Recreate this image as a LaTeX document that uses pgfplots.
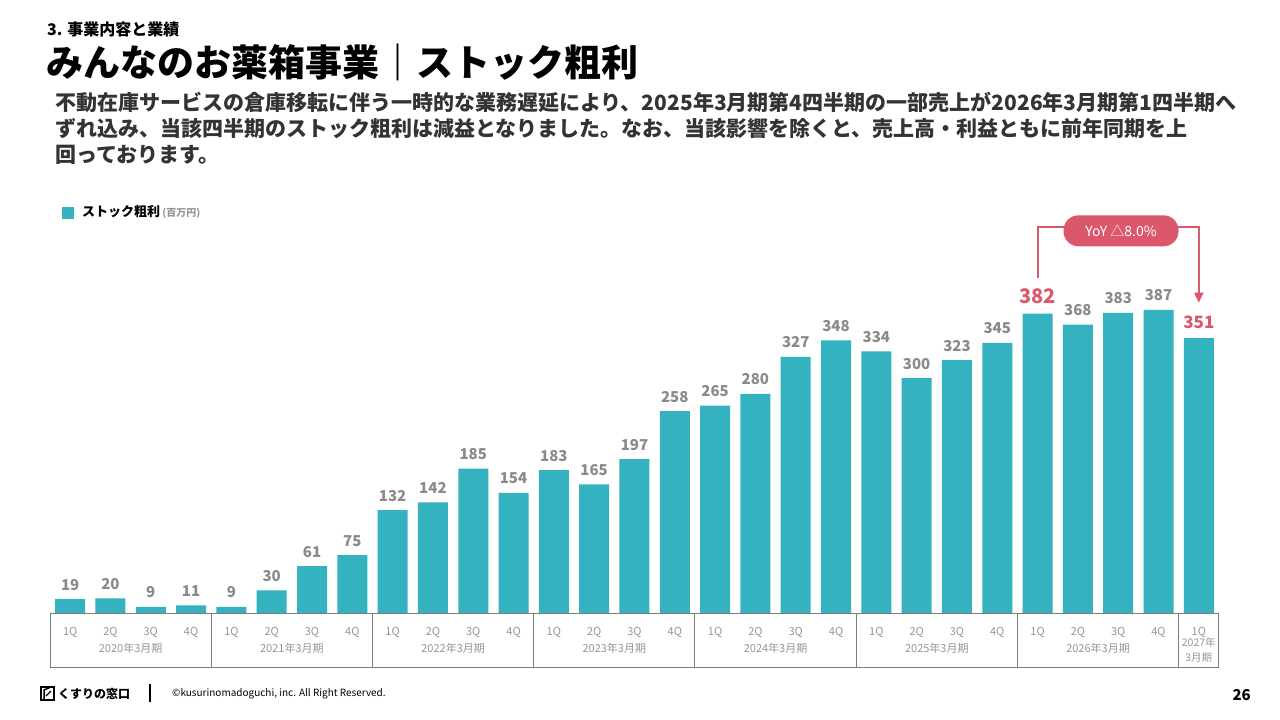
\documentclass[border=0pt]{standalone}
\usepackage{fontspec}
\setmainfont{Noto Sans CJK JP}
\usepackage{pgfplots}
\pgfplotsset{compat=1.18}
\usepackage{pgfplotstable}
\usetikzlibrary{arrows.meta}

\definecolor{barteal}{RGB}{52,178,192}
\definecolor{pinkred}{RGB}{219,88,108}
\definecolor{lblgray}{RGB}{138,138,138}
\definecolor{tickgray}{RGB}{150,150,150}
\definecolor{linegray}{RGB}{125,125,125}
\definecolor{bodytext}{RGB}{51,51,51}

\pgfplotstableread{
x y lab
0 19 19
1 20 20
2 9 9
3 11 11
4 9 9
5 30 30
6 61 61
7 75 75
8 132 132
9 142 142
10 185 185
11 154 154
12 183 183
13 165 165
14 197 197
15 258 258
16 265 265
17 280 280
18 327 327
19 348 348
20 334 334
21 300 300
22 323 323
23 345 345
24 382 {}
25 368 368
26 383 383
27 387 387
28 351 {}
}\stock

\begin{document}
\begin{tikzpicture}[x=1pt,y=1pt]
\fill[white] (0,0) rectangle (1280,720);
\path[use as bounding box] (0,0) rectangle (1280,720);
\coordinate (axpos) at (50,106);

% header
\node[anchor=base west, inner sep=0, font=\fontsize{16}{16}\selectfont\bfseries] at (47,684) {3. 事業内容と業績};
\node[anchor=base west, inner sep=0, font=\fontsize{37}{37}\selectfont\bfseries] at (46,643) {みんなのお薬箱事業｜ストック粗利};
\node[anchor=base west, inner sep=0, font=\fontsize{21}{21}\selectfont\bfseries, text=bodytext] at (55,609) {不動在庫サービスの倉庫移転に伴う一時的な業務遅延により、2025年3月期第4四半期の一部売上が2026年3月期第1四半期へ};
\node[anchor=base west, inner sep=0, font=\fontsize{21}{21}\selectfont\bfseries, text=bodytext] at (55,583) {ずれ込み、当該四半期のストック粗利は減益となりました。なお、当該影響を除くと、売上高・利益ともに前年同期を上};
\node[anchor=base west, inner sep=0, font=\fontsize{21}{21}\selectfont\bfseries, text=bodytext] at (55,557) {回っております。};

% legend
\fill[barteal] (62,501) rectangle (74,513);
\node[anchor=base west, inner sep=0, font=\fontsize{13}{13}\selectfont\bfseries] at (82,503) {ストック粗利\,{\fontsize{10}{10}\selectfont\color{tickgray}(百万円)}};

\begin{axis}[
  at={(axpos)}, anchor=south west,
  scale only axis, width=1169pt, height=393pt,
  xmin=-0.5, xmax=28.5, ymin=0, ymax=500,
  axis line style={draw=none}, major tick length=0pt,
  ytick=\empty,
  xtick={0,...,28},
  xticklabels={1Q,2Q,3Q,4Q,1Q,2Q,3Q,4Q,1Q,2Q,3Q,4Q,1Q,2Q,3Q,4Q,1Q,2Q,3Q,4Q,1Q,2Q,3Q,4Q,1Q,2Q,3Q,4Q,1Q},
  xticklabel style={font=\fontsize{11}{11}\selectfont, text=tickgray, anchor=base, yshift=-22pt},
  clip=false,
]
\addplot[ybar, bar width=30pt, bar shift=0pt, fill=barteal, draw=none,
  nodes near coords, point meta=explicit symbolic,
  every node near coord/.append style={font=\fontsize{15}{15}\selectfont\bfseries, text=lblgray, anchor=base, yshift=9pt}]
  table[x=x, y=y, meta=lab] {\stock};

\addplot[draw=none, mark=none, nodes near coords, point meta=explicit symbolic,
  every node near coord/.append style={font=\fontsize{20}{20}\selectfont\bfseries, text=pinkred, anchor=base, yshift=10pt}]
  coordinates {(24,382) [382]};
\addplot[draw=none, mark=none, nodes near coords, point meta=explicit symbolic,
  every node near coord/.append style={font=\fontsize{17}{17}\selectfont\bfseries, text=pinkred, anchor=base, yshift=10pt}]
  coordinates {(28,351) [351]};

% table lines
\draw[linegray, line width=1pt] (axis cs:-0.5,0) -- (axis cs:28.5,0);
\draw[linegray, line width=1pt] ([yshift=-54pt]axis cs:-0.5,0) -- ([yshift=-54pt]axis cs:28.5,0);
\draw[linegray, line width=1pt] (axis cs:-0.5,0) -- ([yshift=-54pt]axis cs:-0.5,0);
\draw[linegray, line width=1pt] (axis cs:3.5,0) -- ([yshift=-54pt]axis cs:3.5,0);
\draw[linegray, line width=1pt] (axis cs:7.5,0) -- ([yshift=-54pt]axis cs:7.5,0);
\draw[linegray, line width=1pt] (axis cs:11.5,0) -- ([yshift=-54pt]axis cs:11.5,0);
\draw[linegray, line width=1pt] (axis cs:15.5,0) -- ([yshift=-54pt]axis cs:15.5,0);
\draw[linegray, line width=1pt] (axis cs:19.5,0) -- ([yshift=-54pt]axis cs:19.5,0);
\draw[linegray, line width=1pt] (axis cs:23.5,0) -- ([yshift=-54pt]axis cs:23.5,0);
\draw[linegray, line width=1pt] (axis cs:27.5,0) -- ([yshift=-54pt]axis cs:27.5,0);
\draw[linegray, line width=1pt] (axis cs:28.5,0) -- ([yshift=-54pt]axis cs:28.5,0);

% year labels
\node[font=\fontsize{11}{11}\selectfont, text=tickgray, anchor=base, yshift=-39pt] at (axis cs:1.5,0) {2020年3月期};
\node[font=\fontsize{11}{11}\selectfont, text=tickgray, anchor=base, yshift=-39pt] at (axis cs:5.5,0) {2021年3月期};
\node[font=\fontsize{11}{11}\selectfont, text=tickgray, anchor=base, yshift=-39pt] at (axis cs:9.5,0) {2022年3月期};
\node[font=\fontsize{11}{11}\selectfont, text=tickgray, anchor=base, yshift=-39pt] at (axis cs:13.5,0) {2023年3月期};
\node[font=\fontsize{11}{11}\selectfont, text=tickgray, anchor=base, yshift=-39pt] at (axis cs:17.5,0) {2024年3月期};
\node[font=\fontsize{11}{11}\selectfont, text=tickgray, anchor=base, yshift=-39pt] at (axis cs:21.5,0) {2025年3月期};
\node[font=\fontsize{11}{11}\selectfont, text=tickgray, anchor=base, yshift=-39pt] at (axis cs:25.5,0) {2026年3月期};
\node[font=\fontsize{10.5}{10.5}\selectfont, text=tickgray, anchor=base, yshift=-33pt] at (axis cs:28,0) {2027年};
\node[font=\fontsize{10.5}{10.5}\selectfont, text=tickgray, anchor=base, yshift=-48pt] at (axis cs:28,0) {3月期};

% YoY annotation
\draw[pinkred, line width=2pt, -{Triangle[length=10pt,width=9pt]}] (axis cs:24,427) |- (axis cs:28,492) -- (axis cs:28,396);
\node[fill=pinkred, rounded corners=15pt, minimum width=115pt, minimum height=31pt, inner sep=0, text=white, font=\fontsize{14}{14}\selectfont] at (axis cs:26.07,487.5) {YoY △8.0\%};
\end{axis}

% footer
\draw[line width=1.5pt] (41,20) rectangle (54,33);
\draw[line width=1.5pt] (44,20) -- (44,30) -- (51,33);
\draw[line width=1.2pt] (46,24) -- (51,29);
\node[anchor=base west, inner sep=0, font=\fontsize{12}{12}\selectfont\bfseries] at (58,21) {くすりの窓口};
\draw[line width=1.5pt] (150,18) -- (150,36);
\node[anchor=base west, inner sep=0, font=\fontsize{10}{10}\selectfont] at (172,23) {©kusurinomadoguchi, inc. All Right Reserved.};
\node[anchor=base east, inner sep=0, font=\fontsize{15}{15}\selectfont\bfseries] at (1251,19) {26};
\end{tikzpicture}
\end{document}
